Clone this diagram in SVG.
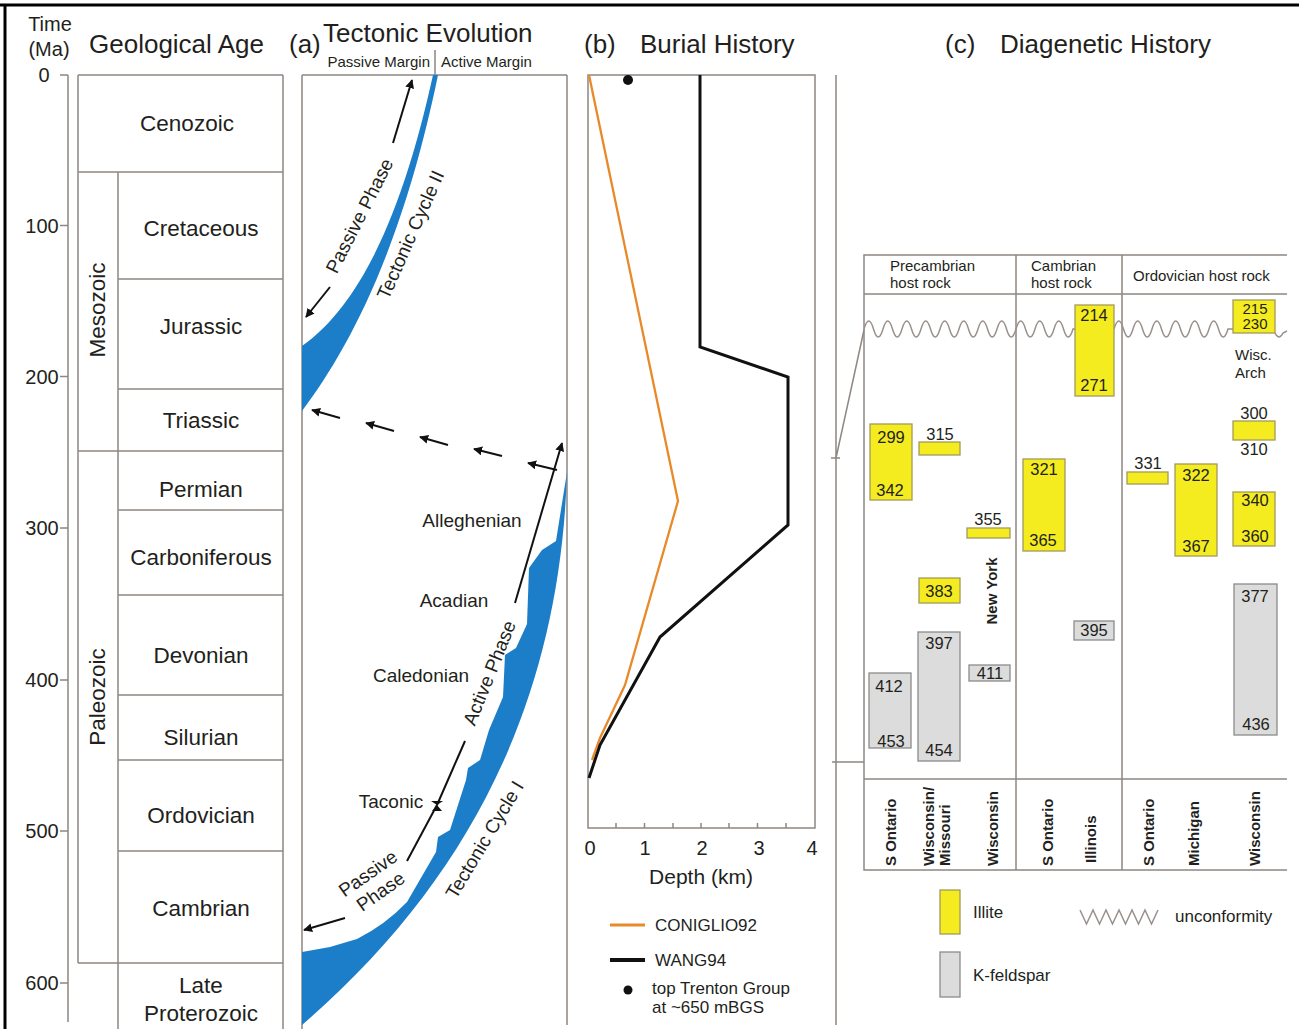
<svg xmlns="http://www.w3.org/2000/svg" width="1299" height="1029" viewBox="0 0 1299 1029">
<defs>
<style>
text{font-family:"Liberation Sans",Arial,sans-serif;fill:#231f20}
.ln{fill:none;stroke:#8f8783;stroke-width:1.5}
.title{font-size:26px}
.age{font-size:20px;text-anchor:middle}
.per{font-size:22.5px;text-anchor:middle}
.tec{font-size:19px;text-anchor:middle}
.blue{fill:#1c7ec8}
.arr{fill:none;stroke:#111;stroke-width:2}
.ill{fill:#f4ec1e;stroke:#a39a5c;stroke-width:1.3}
.kf{fill:#dcdcdc;stroke:#8b8b8b;stroke-width:1.3}
.num{font-size:16.5px;text-anchor:middle}
.hdr{font-size:15px}
.loc{font-size:15px;font-weight:bold}
.wave{fill:none;stroke:#9a908c;stroke-width:1.5}
.leg{font-size:17px}
</style>
<marker id="ah" viewBox="0 0 10 10" refX="9" refY="5" markerWidth="9" markerHeight="9" markerUnits="userSpaceOnUse" orient="auto">
<path d="M0,0 L10,5 L0,10 Z" fill="#111"/>
</marker>
</defs>
<rect width="1299" height="1029" fill="#ffffff"/>
<path d="M0,5 H1299 M5,5 V1029" stroke="#000" stroke-width="3" fill="none"/>

<g id="time-axis">
<text x="50" y="31" style="font-size:20px;text-anchor:middle">Time</text>
<text x="49" y="56" style="font-size:20px;text-anchor:middle">(Ma)</text>
<path class="ln" d="M68,75 V1022 M60,75 H68 M60,225.5 H68 M60,376.5 H68 M60,528 H68 M60,680 H68 M60,831 H68 M60,983 H68"/>
<text class="age" x="44" y="82">0</text>
<text class="age" x="42" y="233">100</text>
<text class="age" x="42" y="384">200</text>
<text class="age" x="42" y="535">300</text>
<text class="age" x="42" y="687">400</text>
<text class="age" x="42" y="838">500</text>
<text class="age" x="42" y="990">600</text>
</g>

<g id="geological-age">
<text class="title" x="89" y="53">Geological Age</text>
<path class="ln" d="M78,75 H283 M78,75 V963 M283,75 V1029 M118,172 V1029 M78,172 H283 M118,279 H283 M118,389 H283 M78,451 H283 M118,510 H283 M118,595 H283 M118,695 H283 M118,760 H283 M118,851 H283 M78,963 H283"/>
<text class="per" x="187" y="131">Cenozoic</text>
<text class="per" transform="translate(105,310) rotate(-90)" x="0" y="0">Mesozoic</text>
<text class="per" transform="translate(105,697) rotate(-90)" x="0" y="0">Paleozoic</text>
<text class="per" x="201" y="236">Cretaceous</text>
<text class="per" x="201" y="334">Jurassic</text>
<text class="per" x="201" y="428">Triassic</text>
<text class="per" x="201" y="497">Permian</text>
<text class="per" x="201" y="565">Carboniferous</text>
<text class="per" x="201" y="663">Devonian</text>
<text class="per" x="201" y="745">Silurian</text>
<text class="per" x="201" y="823">Ordovician</text>
<text class="per" x="201" y="916">Cambrian</text>
<text class="per" x="201" y="993">Late</text>
<text class="per" x="201" y="1021">Proterozoic</text>
</g>

<g id="tectonic-evolution">
<text class="title" x="289" y="53">(a)</text>
<text class="title" x="323" y="42">Tectonic Evolution</text>
<text x="430" y="67" style="font-size:15px;text-anchor:end">Passive Margin</text>
<text x="441" y="67" style="font-size:15px">Active Margin</text>
<path class="ln" d="M435,50 V75 M302,75 H567 M302,75 V1029 M567,75 V1025"/>
<path class="blue" d="M433,75 C412,170 375,295 302,346 L302,411 C348,350 402,250 438,75 Z"/>
<path class="blue" d="M567,472 C560,700 470,880 302,1025 L302,952 L330,947 L357,939 Q385,925 407,902 L436,852 L438,837 L450,830 L466,780 L468,768 L480,760 L489,730 L503,697 L505,655 L516,648 L527,624 L529,568 L542,550 L556,541 Z"/>
<text class="tec" transform="translate(360,216) rotate(-63)" x="0" y="6">Passive Phase</text>
<text class="tec" transform="translate(411,235) rotate(-66)" x="0" y="6">Tectonic Cycle II</text>
<text class="tec" x="472" y="527">Alleghenian</text>
<text class="tec" x="454" y="607">Acadian</text>
<text class="tec" x="421" y="682">Caledonian</text>
<text class="tec" x="391" y="808">Taconic</text>
<text class="tec" transform="translate(490,673) rotate(-68)" x="0" y="6">Active Phase</text>
<text class="tec" transform="translate(485,840) rotate(-59)" x="0" y="6">Tectonic Cycle I</text>
<g transform="translate(374,882) rotate(-35)">
<text class="tec" x="0" y="-4">Passive</text>
<text class="tec" x="0" y="18">Phase</text>
</g>
</g>

<g id="connectors">
<line class="arr" x1="393" y1="143" x2="412" y2="80" marker-end="url(#ah)"/>
<line class="arr" x1="330" y1="287" x2="306" y2="317" marker-end="url(#ah)"/>
<line class="arr" x1="340" y1="418" x2="312" y2="410" marker-end="url(#ah)"/>
<line class="arr" x1="394" y1="431" x2="366" y2="423" marker-end="url(#ah)"/>
<line class="arr" x1="448" y1="445" x2="420" y2="437" marker-end="url(#ah)"/>
<line class="arr" x1="502" y1="456" x2="474" y2="449" marker-end="url(#ah)"/>
<line class="arr" x1="557" y1="470" x2="528" y2="463" marker-end="url(#ah)"/>
<line class="arr" x1="515" y1="603" x2="562" y2="443" marker-end="url(#ah)"/>
<line class="arr" x1="465" y1="741" x2="437" y2="805"/>
<line class="arr" x1="437" y1="805" x2="407" y2="861"/>
<path d="M437,805 l-6,-4 l12,0 z M437,805 l-5,6 l10,0 z" fill="#111"/>
<line class="arr" x1="345" y1="918" x2="304" y2="930" marker-end="url(#ah)"/>
</g>

<g id="burial-history">
<text class="title" x="584" y="53">(b)</text>
<text class="title" x="640" y="53">Burial History</text>
<path class="ln" d="M588,75 H815 V828 H588 Z M616,828 v-5 M644.5,828 v-5 M673,828 v-5 M701,828 v-5 M729,828 v-5 M757.5,828 v-5 M786,828 v-5"/>
<polyline points="589,75 678,501 625,685 600,738 592,760" fill="none" stroke="#e8892a" stroke-width="2.3"/>
<polyline points="700,75 700,347 788,377 788,525 660,637 600,745 589,778" fill="none" stroke="#111" stroke-width="3"/>
<circle cx="628" cy="80" r="5" fill="#111"/>
<text class="age" x="590" y="855">0</text>
<text class="age" x="645" y="855">1</text>
<text class="age" x="702" y="855">2</text>
<text class="age" x="759" y="855">3</text>
<text class="age" x="812" y="855">4</text>
<text x="701" y="884" style="font-size:21px;text-anchor:middle">Depth (km)</text>
<line x1="610" y1="925" x2="645" y2="925" stroke="#e8892a" stroke-width="3"/>
<text class="leg" x="655" y="931">CONIGLIO92</text>
<line x1="610" y1="960" x2="645" y2="960" stroke="#111" stroke-width="4"/>
<text class="leg" x="655" y="966">WANG94</text>
<circle cx="628" cy="990" r="4.5" fill="#111"/>
<text class="leg" x="652" y="994">top Trenton Group</text>
<text class="leg" x="652" y="1013">at ~650 mBGS</text>
</g>

<g id="diagenetic-history">
<text class="title" x="945" y="53">(c)</text>
<text class="title" x="1000" y="53">Diagenetic History</text>
<path class="ln" d="M836,75 V1025 M831,458 H840 M836,458 L864,330 M832,762 H864"/>
<path class="ln" d="M1287,255 H864 V870 H1287 M864,294 H1287 M864,779 H1287 M1016,255 V870 M1122,255 V870"/>
<text class="hdr" x="890" y="271">Precambrian</text>
<text class="hdr" x="890" y="288">host rock</text>
<text class="hdr" x="1031" y="271">Cambrian</text>
<text class="hdr" x="1031" y="288">host rock</text>
<text class="hdr" x="1133" y="281">Ordovician host rock</text>
<path class="wave" d="M864,329 q4.75,-16 9.5,0 t9.5,0 t9.5,0 t9.5,0 t9.5,0 t9.5,0 t9.5,0 t9.5,0 t9.5,0 t9.5,0 t9.5,0 t9.5,0 t9.5,0 t9.5,0 t9.5,0 t9.5,0 t9.5,0 t9.5,0 t9.5,0 t9.5,0 t9.5,0 t9.5,0 L1075,329"/>
<path class="wave" d="M1114,329 q4.75,-16 9.5,0 t9.5,0 t9.5,0 t9.5,0 t9.5,0 t9.5,0 t9.5,0 t9.5,0 t9.5,0 t9.5,0 t9.5,0 t9.5,0 L1233,329"/>
<path class="wave" d="M1275,333 q4,8 8,0 L1287,331"/>

<rect class="ill" x="870" y="424" width="42" height="76"/>
<text class="num" x="891" y="443">299</text>
<text class="num" x="890" y="496">342</text>
<rect class="ill" x="919" y="442" width="41" height="13"/>
<text class="num" x="940" y="440">315</text>
<rect class="ill" x="967" y="528" width="43" height="10"/>
<text class="num" x="988" y="525">355</text>
<rect class="ill" x="919" y="578" width="41" height="25"/>
<text class="num" x="939" y="597">383</text>
<rect class="kf" x="869" y="673" width="42" height="75"/>
<text class="num" x="889" y="692">412</text>
<text class="num" x="891" y="747">453</text>
<rect class="kf" x="918" y="632" width="42" height="129"/>
<text class="num" x="939" y="649">397</text>
<text class="num" x="939" y="756">454</text>
<rect class="kf" x="969" y="665" width="41" height="16"/>
<text class="num" x="990" y="679">411</text>
<text class="loc" transform="translate(997,591) rotate(-90)" x="0" y="0" text-anchor="middle">New York</text>

<rect class="ill" x="1023" y="459" width="42" height="92"/>
<text class="num" x="1044" y="475">321</text>
<text class="num" x="1043" y="546">365</text>
<rect class="ill" x="1075" y="305" width="39" height="91"/>
<text class="num" x="1094" y="321">214</text>
<text class="num" x="1094" y="391">271</text>
<rect class="kf" x="1074" y="621" width="40" height="19"/>
<text class="num" x="1094" y="636">395</text>

<rect class="ill" x="1127" y="472" width="41" height="12"/>
<text class="num" x="1148" y="469">331</text>
<rect class="ill" x="1175" y="464" width="42" height="92"/>
<text class="num" x="1196" y="481">322</text>
<text class="num" x="1196" y="552">367</text>
<rect class="ill" x="1233" y="300" width="42" height="33"/>
<text class="num" x="1255" y="314" style="font-size:15px">215</text>
<text class="num" x="1255" y="329" style="font-size:15px">230</text>
<text class="hdr" x="1235" y="360">Wisc.</text>
<text class="hdr" x="1235" y="378">Arch</text>
<rect class="ill" x="1233" y="421" width="42" height="19"/>
<text class="num" x="1254" y="419">300</text>
<text class="num" x="1254" y="455">310</text>
<rect class="ill" x="1233" y="492" width="42" height="54"/>
<text class="num" x="1255" y="506">340</text>
<text class="num" x="1255" y="542">360</text>
<rect class="kf" x="1234" y="584" width="43" height="151"/>
<text class="num" x="1255" y="602">377</text>
<text class="num" x="1256" y="730">436</text>

<text class="loc" transform="translate(896,866) rotate(-90)" x="0" y="0">S Ontario</text>
<text class="loc" transform="translate(934,866) rotate(-90)" x="0" y="0">Wisconsin/</text>
<text class="loc" transform="translate(950,866) rotate(-90)" x="0" y="0">Missouri</text>
<text class="loc" transform="translate(998,866) rotate(-90)" x="0" y="0">Wisconsin</text>
<text class="loc" transform="translate(1053,866) rotate(-90)" x="0" y="0">S Ontario</text>
<text class="loc" transform="translate(1096,863) rotate(-90)" x="0" y="0">Illinois</text>
<text class="loc" transform="translate(1154,866) rotate(-90)" x="0" y="0">S Ontario</text>
<text class="loc" transform="translate(1199,866) rotate(-90)" x="0" y="0">Michigan</text>
<text class="loc" transform="translate(1260,866) rotate(-90)" x="0" y="0">Wisconsin</text>

<rect class="ill" x="940" y="890" width="20" height="44"/>
<text class="leg" x="973" y="918">Illite</text>
<rect class="kf" x="940" y="952" width="20" height="45"/>
<text class="leg" x="973" y="981">K-feldspar</text>
<path class="wave" d="M1080,910 l6.5,14 l6.5,-14 l6.5,14 l6.5,-14 l6.5,14 l6.5,-14 l6.5,14 l6.5,-14 l6.5,14 l6.5,-14 l6.5,14 l6.5,-14"/>
<text class="leg" x="1175" y="922">unconformity</text>
</g>
</svg>
